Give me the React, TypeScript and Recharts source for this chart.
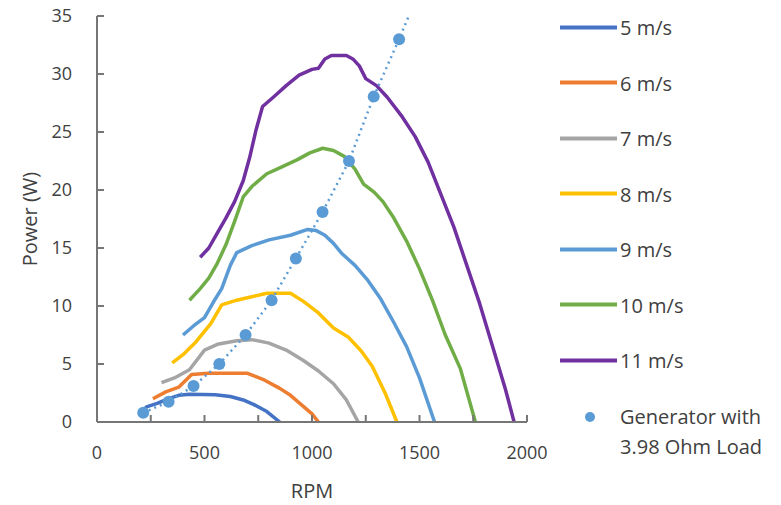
import { ComposedChart, Line, Scatter, XAxis, YAxis } from 'recharts';

// [rpm, power W] pairs
const s5: [number, number][] = [
  [200, 0.6], [230, 1.3], [280, 1.6], [330, 2.0], [380, 2.3], [430, 2.4],
  [550, 2.35], [620, 2.2], [680, 1.9], [730, 1.5], [790, 0.9], [850, 0],
];
const s6: [number, number][] = [
  [260, 2.0], [320, 2.6], [380, 3.0], [440, 4.1], [520, 4.2], [700, 4.2],
  [780, 3.6], [850, 2.9], [900, 2.3], [950, 1.5], [1000, 0.7], [1030, 0],
];
const s7: [number, number][] = [
  [300, 3.4], [360, 3.8], [430, 4.5], [500, 6.2], [560, 6.7], [650, 7.0],
  [720, 7.1], [800, 6.8], [880, 6.2], [960, 5.3], [1030, 4.4], [1100, 3.3],
  [1160, 1.9], [1215, 0],
];
const s8: [number, number][] = [
  [350, 5.1], [400, 5.8], [460, 6.9], [530, 8.5], [580, 10.1], [650, 10.5],
  [720, 10.8], [790, 11.1], [900, 11.1], [960, 10.4], [1030, 9.4], [1100, 8.1],
  [1170, 7.3], [1230, 6.1], [1280, 4.8], [1340, 2.5], [1395, 0],
];
const s9: [number, number][] = [
  [400, 7.5], [450, 8.3], [500, 9.0], [540, 10.3], [580, 11.5], [620, 13.5],
  [650, 14.6], [720, 15.2], [800, 15.7], [900, 16.1], [980, 16.6], [1020, 16.5],
  [1060, 16.1], [1100, 15.4], [1140, 14.5], [1200, 13.5], [1260, 12.2],
  [1320, 10.6], [1380, 8.6], [1440, 6.5], [1500, 3.8], [1570, 0],
];
const s10: [number, number][] = [
  [430, 10.5], [480, 11.5], [520, 12.4], [560, 13.7], [600, 15.3], [640, 17.3],
  [680, 19.4], [720, 20.3], [790, 21.4], [860, 22.0], [930, 22.6], [990, 23.2],
  [1050, 23.6], [1100, 23.4], [1150, 22.9], [1200, 21.8], [1240, 20.5],
  [1290, 19.8], [1330, 19.0], [1380, 17.6], [1440, 15.6], [1500, 13.2],
  [1560, 10.5], [1620, 7.5], [1690, 4.6], [1760, 0],
];
const s11: [number, number][] = [
  [480, 14.2], [520, 15.0], [560, 16.3], [600, 17.6], [640, 19.0], [680, 20.8],
  [710, 22.8], [740, 25.2], [770, 27.2], [820, 28.0], [880, 29.0], [940, 29.9],
  [1000, 30.4], [1030, 30.5], [1060, 31.3], [1090, 31.6], [1160, 31.6],
  [1190, 31.3], [1220, 30.7], [1250, 29.6], [1300, 29.0], [1350, 28.0],
  [1420, 26.3], [1480, 24.6], [1540, 22.4], [1600, 19.6], [1660, 16.8],
  [1720, 13.5], [1780, 10.2], [1840, 6.5], [1900, 2.8], [1940, 0],
];
const generator: [number, number][] = [
  [215, 0.8], [333, 1.75], [449, 3.1], [569, 5.0], [691, 7.5], [812, 10.5],
  [925, 14.1], [1049, 18.1], [1172, 22.5], [1287, 28.05], [1405, 33.0],
];
// dotted trend runs on past the last point to the top of the plot
const trendEnd: [number, number] = [1450, 35];

const speedLabels = ['5 m/s', '6 m/s', '7 m/s', '8 m/s', '9 m/s', '10 m/s', '11 m/s'];
const speedColors = ['#4472C4', '#ED7D31', '#A5A5A5', '#FFC000', '#5B9BD5', '#70AD47', '#7030A0'];
const speedSeries = [s5, s6, s7, s8, s9, s10, s11];
const genLabel = ['Generator with', '3.98 Ohm Load'];

const xTicks = [0, 250, 500, 750, 1000, 1250, 1500, 1750, 2000];
const yTicks = [0, 5, 10, 15, 20, 25, 30, 35];

const toRows = (pts: [number, number][]) => pts.map(([rpm, power]) => ({ rpm, power }));

const FONT = '"Open Sans", sans-serif';
const AXIS = '#767676';
const TEXT = '#404040';

const Dot = (p: any) => <circle cx={p.cx} cy={p.cy} r={6} fill="#5B9BD5" />;

const Legend = () => (
  <div style={{ position: 'absolute', left: 560, top: 0, fontFamily: FONT, fontSize: 20, color: TEXT }}>
    {speedLabels.map((name, i) => (
      <div key={name} style={{ position: 'absolute', top: 27 + i * 55.5, left: 0, display: 'flex', alignItems: 'center', transform: 'translateY(-50%)', whiteSpace: 'nowrap' }}>
        <span style={{ display: 'inline-block', width: 57, height: 4, background: speedColors[i], marginRight: 3 }} />
        <span>{name}</span>
      </div>
    ))}
    <div style={{ position: 'absolute', top: 417, left: 25, width: 10, height: 10, borderRadius: 5, background: '#5B9BD5', transform: 'translate(0,-50%)' }} />
    <div style={{ position: 'absolute', top: 417, left: 60, lineHeight: '30px', transform: 'translateY(-15px)', whiteSpace: 'nowrap' }}>
      <div>{genLabel[0]}</div>
      <div>{genLabel[1]}</div>
    </div>
  </div>
);

export default function App() {
  return (
    <div style={{ position: 'absolute', left: 0, top: 0, width: 781, height: 505, background: '#fff' }}>
      <ComposedChart width={781} height={505} margin={{ top: 16, right: 254, bottom: 0, left: 37 }}>
        <XAxis
          type="number"
          dataKey="rpm"
          domain={[0, 2000]}
          ticks={xTicks}
          tickFormatter={(v: number) => (v % 500 === 0 ? String(v) : '')}
          height={83}
          tickSize={-7}
          tickMargin={31}
          stroke={AXIS}
          strokeWidth={2}
          tick={{ fill: TEXT, fontSize: 18, fontFamily: FONT }}
          label={{ value: 'RPM', position: 'insideBottom', offset: 7, fill: TEXT, fontSize: 20, fontFamily: FONT }}
        />
        <YAxis
          type="number"
          dataKey="power"
          domain={[0, 35]}
          ticks={yTicks}
          allowDataOverflow
          width={60}
          tickSize={-7}
          tickMargin={32}
          stroke={AXIS}
          strokeWidth={2}
          tick={{ fill: TEXT, fontSize: 18, fontFamily: FONT }}
          label={{ value: 'Power (W)', angle: -90, position: 'insideLeft', offset: -7, fill: TEXT, fontSize: 20, fontFamily: FONT, style: { textAnchor: 'middle' } }}
        />
        {speedSeries.map((s, i) => (
          <Line
            key={speedLabels[i]}
            data={toRows(s)}
            dataKey="power"
            type="linear"
            stroke={speedColors[i]}
            strokeWidth={3.5}
            strokeLinejoin="round"
            dot={false}
            isAnimationActive={false}
          />
        ))}
        <Line
          data={toRows([...generator, trendEnd])}
          dataKey="power"
          type="linear"
          stroke="#5B9BD5"
          strokeWidth={2.5}
          strokeDasharray="2 4"
          dot={false}
          isAnimationActive={false}
        />
        <Scatter data={toRows(generator)} dataKey="power" shape={Dot} isAnimationActive={false} />
      </ComposedChart>
      <Legend />
    </div>
  );
}
